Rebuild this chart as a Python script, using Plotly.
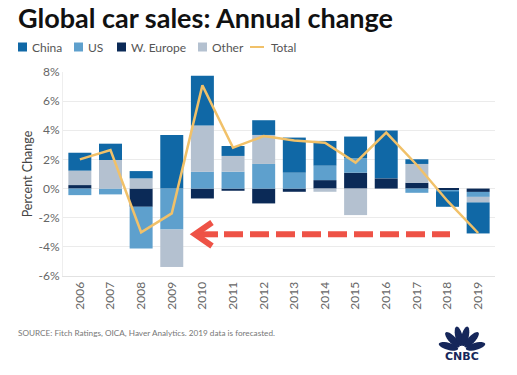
import math
import plotly.graph_objects as go

# ---------------- data ----------------
years = ["2006", "2007", "2008", "2009", "2010", "2011", "2012",
         "2013", "2014", "2015", "2016", "2017", "2018", "2019"]
china = [1.23, 1.12, 0.50, 3.68, 3.42, 0.68, 1.01, 2.41, 1.70, 1.49, 3.28, 0.32, -1.05, -2.13]
us = [-0.45, -0.40, -2.87, -2.81, 1.16, 1.16, 1.69, 1.09, 0.99, 0.99, 0.0, -0.29, -0.07, -0.34]
w_europe = [0.24, 0.0, -1.25, 0.0, -0.68, -0.15, -1.02, -0.22, 0.58, 1.09, 0.70, 0.40, -0.13, -0.23]
other = [0.99, 1.96, 0.70, -2.57, 3.16, 1.08, 1.99, 0.0, -0.22, -1.82, 0.0, 1.29, 0.0, -0.38]
total = [2.0, 2.65, -3.0, -1.7, 7.08, 2.8, 3.6, 3.3, 3.15, 1.78, 3.84, 1.62, -0.85, -3.05]

ytick_vals = [-6, -4, -2, 0, 2, 4, 6, 8]
ytick_text = ["-6%", "-4%", "-2%", "0%", "2%", "4%", "6%", "8%"]

series_names = ["China", "US", "W. Europe", "Other", "Total"]

# ---------------- style ----------------
C_CHINA = "#1068A6"
C_US = "#5EA0CD"
C_WEU = "#0B2A57"
C_OTHER = "#B4C1D0"
C_TOTAL = "#F1C169"
C_RED = "#EE5246"
C_NAVY = "#16275A"

W, H = 517, 375
ML, MR, MT, MB = 63, 22, 72, 99
PW, PH = W - ML - MR, H - MT - MB


def px(x):
    return (x - ML) / PW


def py(y):
    return (H - MB - y) / PH


fig = go.Figure()
# stacking order from zero outward: W. Europe, US, Other, China
for name, vals, col in [("W. Europe", w_europe, C_WEU), ("US", us, C_US),
                        ("Other", other, C_OTHER), ("China", china, C_CHINA)]:
    fig.add_trace(go.Bar(x=years, y=vals, name=name, marker_color=col,
                         marker_line_width=0, showlegend=False))
fig.add_trace(go.Scatter(x=years, y=total, name="Total", mode="lines",
                         line=dict(color=C_TOTAL, width=2.5), showlegend=False))

fig.update_layout(
    width=W, height=H,
    margin=dict(l=ML, r=MR, t=MT, b=MB, pad=0),
    paper_bgcolor="white", plot_bgcolor="white",
    barmode="relative", bargap=0.25,
    font=dict(family="Lato", size=12, color="#666666"),
)
fig.update_xaxes(type="category", tickangle=-90, showgrid=False,
                 showline=True, linecolor="#E2E2E2", ticks="",
                 tickfont=dict(family="Lato", size=12, color="#666666"),
                 range=[-0.55, 13.55])
fig.update_yaxes(range=[-6, 8], tickvals=ytick_vals, ticktext=ytick_text,
                 showgrid=True, gridcolor="#EBEBEB", gridwidth=1,
                 zeroline=False, showline=True, linecolor="#EEEEEE", ticks="",
                 tickfont=dict(family="Lato", size=12, color="#666666"),
                 title=dict(text="Percent Change", standoff=3,
                            font=dict(family="Lato", size=12.5, color="#444444")))

shapes = []
annotations = []

# title
annotations.append(dict(text="<b>Global car sales: Annual change</b>", xref="paper", yref="paper",
                        x=px(17), y=py(0), xanchor="left", yanchor="top", showarrow=False,
                        borderpad=0,
                        font=dict(family="Lato", size=27, color="#111111")))

# manual legend
legend_items = [(18, C_CHINA), (74, C_US), (117, C_WEU), (198, C_OTHER)]
for (x0, col), name in zip(legend_items, series_names[:4]):
    shapes.append(dict(type="rect", xref="paper", yref="paper",
                       x0=px(x0), x1=px(x0 + 9), y0=py(51.5), y1=py(42.5),
                       fillcolor=col, line=dict(width=0)))
    annotations.append(dict(text=name, xref="paper", yref="paper", x=px(x0 + 12), y=py(47),
                            xanchor="left", yanchor="middle", showarrow=False,
                            font=dict(family="Lato", size=12, color="#555555")))
shapes.append(dict(type="line", xref="paper", yref="paper", x0=px(250), x1=px(264),
                   y0=py(47), y1=py(47), line=dict(color=C_TOTAL, width=2)))
annotations.append(dict(text=series_names[4], xref="paper", yref="paper", x=px(269), y=py(47),
                        xanchor="left", yanchor="middle", showarrow=False,
                        font=dict(family="Lato", size=12, color="#555555")))

# red dashed arrow
ay = 234.3
shapes.append(dict(type="line", xref="paper", yref="paper", x0=px(196), x1=px(218),
                   y0=py(ay), y1=py(ay), line=dict(color=C_RED, width=6)))
shapes.append(dict(type="line", xref="paper", yref="paper", x0=px(224), x1=px(450),
                   y0=py(ay), y1=py(ay), line=dict(color=C_RED, width=6, dash="19px,7px")))
shapes.append(dict(type="path", xref="paper", yref="paper",
                   path=f"M {px(212)},{py(222.5)} L {px(195)},{py(ay)} L {px(212)},{py(246)}",
                   line=dict(color=C_RED, width=6)))

# source
annotations.append(dict(text="SOURCE: Fitch Ratings, OICA, Haver Analytics. 2019 data is forecasted.",
                        xref="paper", yref="paper", x=px(16), y=py(333), xanchor="left",
                        yanchor="middle", showarrow=False,
                        font=dict(family="Lato", size=8.2, color="#777777")))

# CNBC peacock logo (decorative)
cx, cy = 462, 350
for ang in [165, 133, 103, 77, 47, 15]:
    t = math.radians(ang)
    ux, uy = math.cos(t), -math.sin(t)
    vx, vy = -uy, ux
    d, a, b = 14, 10, 3.6
    pts = []
    for k in range(24):
        s = 2 * math.pi * k / 24
        ex = d + a * math.cos(s)
        ey = b * math.sin(s)
        pts.append((cx + ux * ex + vx * ey, cy + uy * ex + vy * ey))
    path = "M " + " L ".join(f"{px(x)},{py(y)}" for x, y in pts) + " Z"
    shapes.append(dict(type="path", xref="paper", yref="paper", path=path,
                       fillcolor=C_NAVY, line=dict(width=0)))
annotations.append(dict(text="<b>CNBC</b>", xref="paper", yref="paper", x=px(462), y=py(356),
                        xanchor="center", yanchor="middle", showarrow=False,
                        font=dict(family="DejaVu Sans", size=11, color=C_NAVY)))

fig.update_layout(shapes=shapes, annotations=annotations)
fig.write_html("out.html", config={"displayModeBar": False},
               post_script="document.body.style.margin='0';")
